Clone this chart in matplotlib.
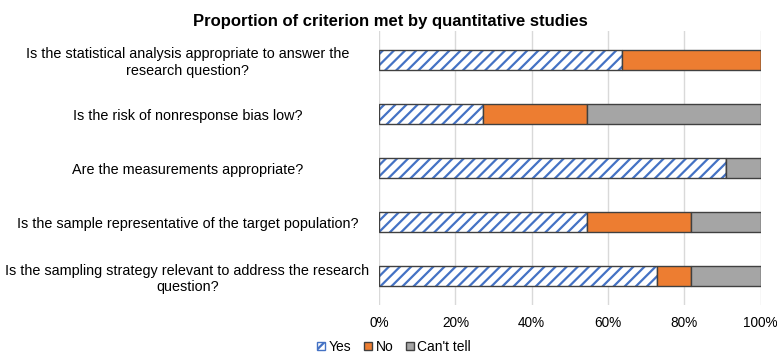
import matplotlib.pyplot as plt
import numpy as np
from matplotlib.patches import Patch

plt.rcParams['font.family'] = ['Liberation Sans', 'DejaVu Sans']
plt.rcParams['hatch.linewidth'] = 1.6

questions = [
    "Is the statistical analysis appropriate to answer the\nresearch question?",
    "Is the risk of nonresponse bias low?",
    "Are the measurements appropriate?",
    "Is the sample representative of the target population?",
    "Is the sampling strategy relevant to address the research\nquestion?",
]
yes = [63.6, 27.3, 90.9, 54.5, 72.7]
no = [36.4, 27.3, 0.0, 27.3, 9.1]
cant_tell = [0.0, 45.4, 9.1, 18.2, 18.2]
xticks = [0, 20, 40, 60, 80, 100]

fig = plt.figure(figsize=(7.77, 3.54), dpi=100)
ax = fig.add_axes([0.488, 0.138, 0.491, 0.774])

y = np.arange(len(questions))
h = 0.37
edge = '#404040'
blue = '#4472C4'
orange = '#ED7D31'
gray = '#A5A5A5'

yes = np.array(yes)
no = np.array(no)
cant_tell = np.array(cant_tell)

# hatched "Yes" segment, then outline on top
ax.barh(y, yes, height=h, color='white', edgecolor=blue, hatch='///', linewidth=0, zorder=2)
ax.barh(y, yes, height=h, color='none', edgecolor=edge, linewidth=1.0, zorder=3)
ax.barh(y, no, left=yes, height=h, color=orange, edgecolor=edge, linewidth=1.0, zorder=3)
ax.barh(y, cant_tell, left=yes + no, height=h, color=gray, edgecolor=edge, linewidth=1.0, zorder=3)

ax.set_xlim(0, 100)
ax.set_ylim(len(questions) - 0.47, -0.53)
ax.set_xticks(xticks)
ax.set_xticklabels([f"{v}%" for v in xticks], fontsize=9.8)
ax.set_yticks(y)
ax.set_yticklabels(questions, fontsize=10.4, ha='center', multialignment='center')
ax.tick_params(axis='y', length=0, pad=138)
ax.tick_params(axis='x', length=0, pad=8)
ax.grid(axis='x', color='#D9D9D9', linewidth=1.0, zorder=0)
for s in ax.spines.values():
    s.set_visible(False)

fig.suptitle("Proportion of criterion met by quantitative studies",
             fontsize=12, fontweight='bold', x=0.503, y=0.96)

handles = [
    Patch(facecolor='white', edgecolor=blue, hatch='///', label='Yes'),
    Patch(facecolor=orange, edgecolor=edge, label='No'),
    Patch(facecolor=gray, edgecolor=edge, label="Can't tell"),
]
fig.legend(handles=handles, loc='lower center', bbox_to_anchor=(0.507, -0.035), ncol=3,
           frameon=False, fontsize=10, handlelength=0.6, handleheight=0.6,
           handletextpad=0.25, columnspacing=0.9)

fig.savefig('out.png', dpi=100)
